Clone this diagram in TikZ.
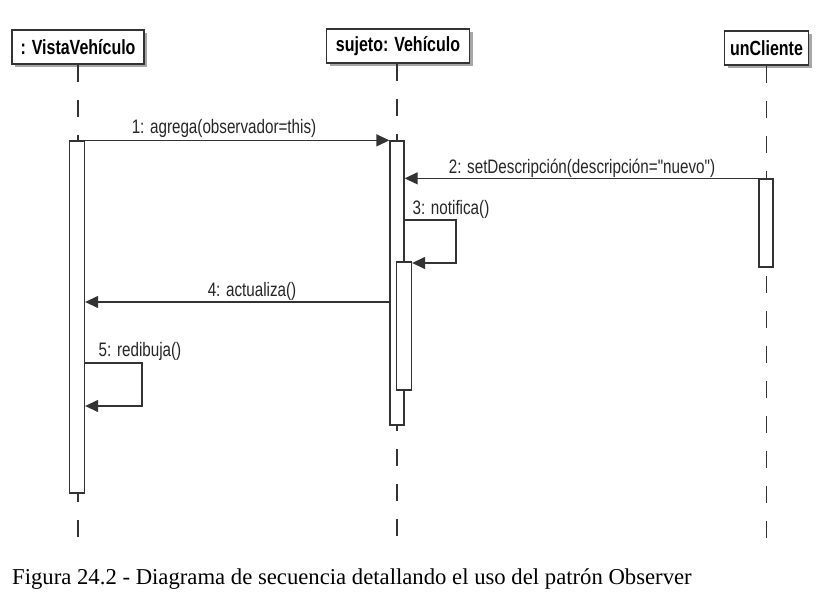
\documentclass[tikz,border=0pt]{standalone}
\usepackage{fontspec}
\setmainfont{Liberation Serif}
\setsansfont{Liberation Sans}
\newfontfamily\narrowfont[FakeStretch=0.78]{Liberation Sans}
\usetikzlibrary{arrows.meta,shadows}
\definecolor{ink}{HTML}{333333}
\tikzset{
  head/.style={draw=ink, line width=1.4pt, fill=white, inner sep=0pt,
    minimum height=34pt,
    font=\narrowfont\bfseries\fontsize{20.5}{22}\selectfont,
    drop shadow={shadow xshift=3pt, shadow yshift=-3pt, fill=black!35, opacity=1}},
  lifeline/.style={draw=ink, line width=1.3pt, dash pattern=on 17pt off 18pt},
  actbar/.style={draw=ink, line width=1.3pt, fill=white, inner sep=0pt, minimum width=15pt},
  msg/.style={draw=ink, line width=1.3pt, -{Triangle[length=13pt,width=12pt]}},
  lbl/.style={font=\narrowfont\fontsize{19.5}{21}\selectfont, text=black!85, inner sep=0pt, anchor=base},
}
\begin{document}
\begin{tikzpicture}[x=1pt,y=-1pt]
\useasboundingbox (0,0) rectangle (818,599);

% heads
\node[head, minimum width=132pt] (vv) at (78,47) {: VistaVehículo};
\node[head, minimum width=143pt] (sv) at (398,46) {sujeto: Vehículo};
\node[head, minimum width=84pt] (uc) at (766.5,48) {unCliente};

% lifeline ends
\coordinate (vvend) at (78,538);
\coordinate (svend) at (397,538);
\coordinate (ucend) at (766.5,538);

\draw[lifeline] (vv.south) -- (vvend);
\draw[lifeline] (sv.south -| svend) -- (svend);
\draw[lifeline] (uc.south) -- (ucend);

% activation bars
\node[actbar, minimum height=352pt] (a1) at (77,317) {};
\node[actbar, minimum width=14pt, minimum height=284pt] (s1) at (397,283) {};
\node[actbar, minimum height=128pt] (s2) at (404,326) {};
\node[actbar, minimum width=14pt, minimum height=88pt] (u1) at (766,223) {};

% message 1
\draw[msg] (a1.north east) -- (s1.north west);
\node[lbl] (l1) at (224,133) {1: agrega(observador=this)};

% message 2
\draw[msg] (u1.north west) -- (s1.east |- u1.north);
\node[lbl] (l2) at (582,173) {2: setDescripción(descripción="nuevo")};

% message 3 (self)
\coordinate (m3a) at (s1.east |- 0,220);
\coordinate (m3b) at (456,220);
\coordinate (m3c) at (s2.east |- 0,263);
\draw[msg] (m3a) -- (m3b) |- (m3c);
\node[lbl] (l3) at (451,214) {3: notifica()};

% message 4
\coordinate (m4a) at (s1.west |- 0,302);
\coordinate (m4b) at (a1.east |- 0,302);
\draw[msg] (m4a) -- (m4b);
\node[lbl] (l4) at (252,296) {4: actualiza()};

% message 5 (self)
\coordinate (m5a) at (a1.east |- 0,363);
\coordinate (m5b) at (142,363);
\coordinate (m5c) at (a1.east |- 0,406);
\draw[msg] (m5a) -- (m5b) |- (m5c);
\node[lbl] (l5) at (140,356) {5: redibuja()};

% caption
\node[font=\fontsize{22.7}{26}\selectfont, anchor=base west, inner sep=0pt] (cap) at (12,584)
  {Figura 24.2 - Diagrama de secuencia detallando el uso del patrón Observer};
\end{tikzpicture}
\end{document}
